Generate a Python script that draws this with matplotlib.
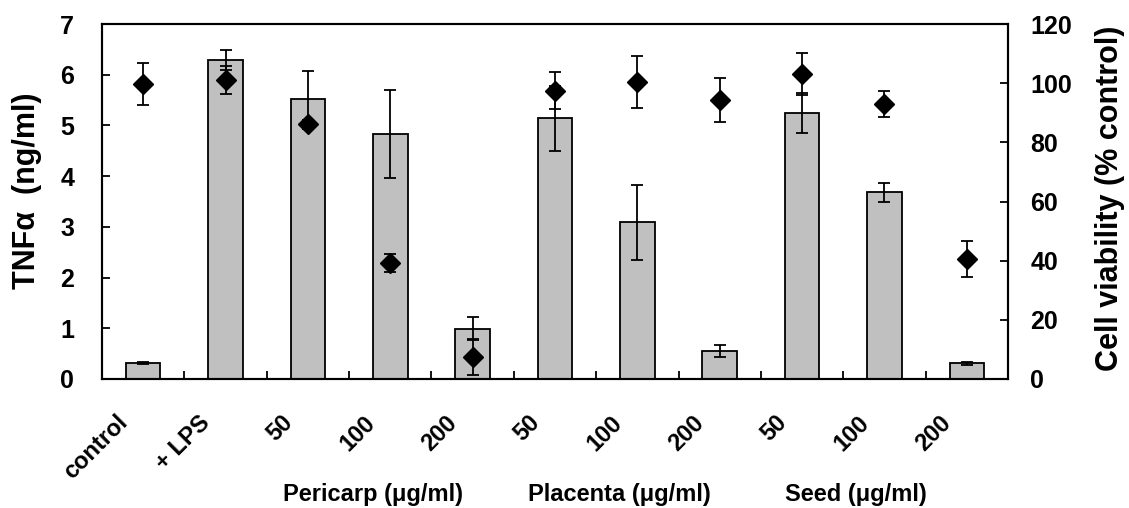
import matplotlib
matplotlib.use("Agg")
import matplotlib.pyplot as plt
import matplotlib.transforms as mtransforms
import numpy as np

plt.rcParams['font.family'] = ['Liberation Sans', 'DejaVu Sans']
plt.rcParams['font.weight'] = 'bold'

categories = ['control', '+ LPS', '50', '100', '200', '50', '100', '200', '50', '100', '200']
groups = ['Pericarp (\u03bcg/ml)', 'Placenta (\u03bcg/ml)', 'Seed (\u03bcg/ml)']
tnf = [0.31, 6.29, 5.53, 4.83, 0.99, 5.14, 3.09, 0.55, 5.25, 3.68, 0.31]
tnf_err = [0.02, 0.20, 0.55, 0.87, 0.23, 0.64, 0.74, 0.12, 0.39, 0.19, 0.03]
viab = [99.6, 101.0, 86.1, 39.2, 7.4, 97.5, 100.3, 94.3, 103.1, 92.9, 40.5]
viab_err = [7.1, 4.7, 1.5, 3.0, 6.0, 6.2, 8.8, 7.4, 7.0, 4.5, 6.0]

fig = plt.figure(figsize=(11.29, 5.08), dpi=100)
ax = fig.add_axes([102/1129, 1-379/508, 906/1129, 355/508])
x = np.arange(len(categories))

ax.bar(x, tnf, width=0.42, color='#c0c0c0', edgecolor='black', linewidth=1.3, zorder=2)
ax.errorbar(x, tnf, yerr=tnf_err, fmt='none', ecolor='black', elinewidth=1.3,
            capsize=4.5, capthick=1.3, zorder=3)
ax.set_xlim(-0.5, len(categories) - 0.5)
ax.set_ylim(0, 7)
ax.set_yticks(range(0, 8))
ax.set_xticks(x)
ax.set_xticklabels(categories, rotation=45, ha='right', va='center',
                   rotation_mode='anchor', fontsize=17, fontweight='bold')
ax.set_xticks(np.arange(0.5, len(categories) - 1, 1.0), minor=True)
ax.tick_params(axis='x', which='major', length=0, pad=29)
ax.tick_params(axis='x', which='minor', direction='in', length=6, width=1.3)
ax.tick_params(axis='y', direction='in', length=6, width=1.3, labelsize=18, pad=20)
offset = mtransforms.ScaledTranslation(-0.19, 0, fig.dpi_scale_trans)
for lab in ax.get_xticklabels():
    lab.set_transform(lab.get_transform() + offset)
for s in ax.spines.values():
    s.set_linewidth(1.5)

ax2 = ax.twinx()
ax2.errorbar(x, viab, yerr=viab_err, fmt='D', color='black', markersize=10.5,
             ecolor='black', elinewidth=1.3, capsize=4.5, capthick=1.3, zorder=4)
ax2.set_ylim(0, 120)
ax2.set_yticks(range(0, 121, 20))
ax2.tick_params(axis='y', direction='in', length=6, width=1.3, labelsize=18, pad=16)
for s in ax2.spines.values():
    s.set_linewidth(1.5)

for lab in ax.get_yticklabels() + ax2.get_yticklabels():
    lab.set_fontweight('bold')

fig.text(27/1129, 1-191/508, 'TNF\u03b1  (ng/ml)', rotation=90, ha='center', va='center',
         fontsize=22, fontweight='bold')
fig.text(1110/1129, 1-198/508, 'Cell viability (% control)', rotation=90, ha='center',
         va='center', fontsize=22, fontweight='bold')

for gx, g in zip([373, 619, 856], groups):
    fig.text(gx/1129, 1-494/508, g, ha='center', va='center', fontsize=17, fontweight='bold')

fig.savefig('out.png', dpi=100)
